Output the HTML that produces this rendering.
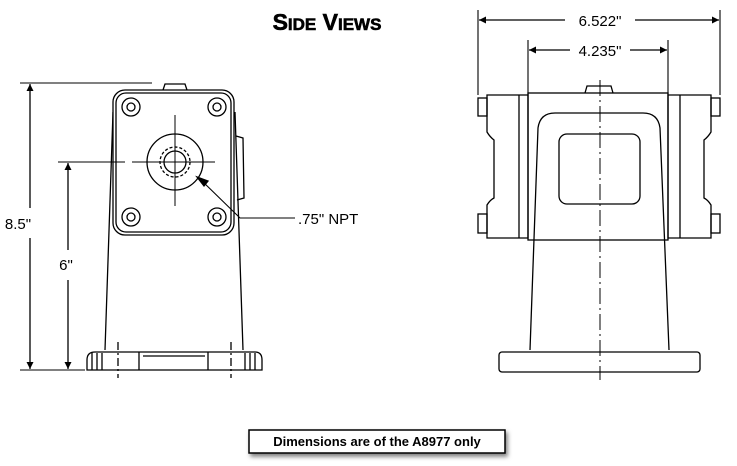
<!DOCTYPE html>
<html><head><style>
html,body{margin:0;padding:0;background:#fff;width:737px;height:466px;overflow:hidden;font-family:"Liberation Sans",sans-serif}
</style></head><body>
<svg width="737" height="466" viewBox="0 0 737 466" xmlns="http://www.w3.org/2000/svg">
<defs>
<marker id="a" viewBox="0 0 10 10" refX="10" refY="5" markerWidth="9" markerHeight="7" orient="auto-start-reverse" markerUnits="userSpaceOnUse"><path d="M0,0 L10,5 L0,10 z" fill="#000"/></marker>
<filter id="sh" x="-10%" y="-30%" width="130%" height="200%"><feDropShadow dx="2" dy="3" stdDeviation="2" flood-color="#000" flood-opacity="0.5"/></filter>
</defs>
<text x="327" y="30" text-anchor="middle" font-family="Liberation Sans,sans-serif" font-weight="bold" font-size="23" fill="#000" stroke="#000" stroke-width="0.6">S<tspan font-size="17">IDE</tspan> V<tspan font-size="17">IEWS</tspan></text>
<g stroke="#000" fill="none" stroke-width="1.3">
<!-- LEFT VIEW -->
<path d="M163,90 L165,84 L185,84 L187,90"/>
<path d="M113,112 L105,350 M235,112 L243,350"/>
<rect x="113" y="90" width="121" height="145" rx="12" fill="#fff"/>
<rect x="116" y="93" width="115" height="139" rx="10"/>
<path d="M236,136 L243,138 L244,198 L237,200"/>
<g>
<circle cx="131" cy="107" r="9"/><circle cx="131" cy="107" r="4"/>
<circle cx="217" cy="107" r="9"/><circle cx="217" cy="107" r="4"/>
<circle cx="131" cy="217" r="9"/><circle cx="131" cy="217" r="4"/>
<circle cx="217" cy="217" r="9"/><circle cx="217" cy="217" r="4"/>
</g>
<circle cx="175" cy="162" r="28"/>
<circle cx="175" cy="162" r="15" stroke-dasharray="3,2"/>
<circle cx="175" cy="162" r="11"/>
<path d="M175,115 V206 M132,162 H215" stroke-width="1"/>
<path d="M87,360 Q87,352 95,352 H255 Q262,352 262,360 V370 H87 Z"/>
<path d="M139,352 V370 M208,352 V370 M143,356 H205 M92,353 V370 M97,353 V370 M102,353 V370 M245,353 V370 M250,353 V370 M255,353 V370"/>
<path d="M118,342 V378 M231,342 V378" stroke-dasharray="8,3,2,3"/>
<!-- left dims -->
<path d="M20,83 H152 M20,370 H85 M58,162 H125" stroke-width="1"/>
<line x1="30" y1="208" x2="30" y2="84" marker-end="url(#a)"/>
<line x1="30" y1="238" x2="30" y2="369" marker-end="url(#a)"/>
<line x1="68" y1="250" x2="68" y2="163" marker-end="url(#a)"/>
<line x1="68" y1="280" x2="68" y2="369" marker-end="url(#a)"/>
<path d="M295,218 H240 L200,179" stroke-width="1.1"/>
<path d="M197,177 L208,181 L204,186 Z" fill="#000"/>
<!-- RIGHT VIEW -->
<path d="M585,93 L587,86 L611,86 L613,93"/>
<rect x="528" y="93" width="140" height="147"/>
<path d="M487,95 H528 V238 H487 V205 Q490,200 494,198 V140 Q490,137 487,132 Z"/>
<path d="M519,95 V238"/>
<path d="M711,95 H668 V238 H711 V205 Q708,200 704,198 V140 Q708,137 711,132 Z"/>
<path d="M680,95 V238"/>
<rect x="478" y="98" width="9" height="18"/><rect x="478" y="214" width="9" height="19"/>
<rect x="711" y="98" width="9" height="18"/><rect x="711" y="214" width="9" height="19"/>
<path d="M530,350 L538,128 Q540,113 555,113 H643 Q658,113 660,128 L669,350"/>
<rect x="559" y="134" width="81" height="70" rx="8"/>
<rect x="499" y="352" width="201" height="20" rx="3"/>
<path d="M600,80 V380" stroke-dasharray="16,4,2,4" stroke-width="1"/>
<!-- right dims -->
<path d="M478,10 V95 M720,10 V95 M528,40 V95 M668,40 V95" stroke-width="1.1"/>
<line x1="565" y1="20" x2="479" y2="20" marker-end="url(#a)"/>
<line x1="635" y1="20" x2="719" y2="20" marker-end="url(#a)"/>
<line x1="570" y1="50" x2="529" y2="50" marker-end="url(#a)"/>
<line x1="630" y1="50" x2="667" y2="50" marker-end="url(#a)"/>
</g>
<g font-family="Liberation Sans,sans-serif" font-size="15" fill="#000">
<text x="600" y="26" text-anchor="middle">6.522"</text>
<text x="600" y="56" text-anchor="middle">4.235"</text>
<rect x="4" y="212" width="30" height="22" fill="#fff"/>
<text x="18" y="229" text-anchor="middle">8.5"</text>
<text x="66" y="270" text-anchor="middle">6"</text>
<text x="298" y="224">.75" NPT</text>
</g>
<rect x="249" y="430" width="256" height="23" fill="#fff" stroke="#000" stroke-width="1.5" filter="url(#sh)"/>
<text x="377" y="446" text-anchor="middle" font-family="Liberation Sans,sans-serif" font-weight="bold" font-size="13">Dimensions are of the A8977 only</text>
</svg>
</body></html>
